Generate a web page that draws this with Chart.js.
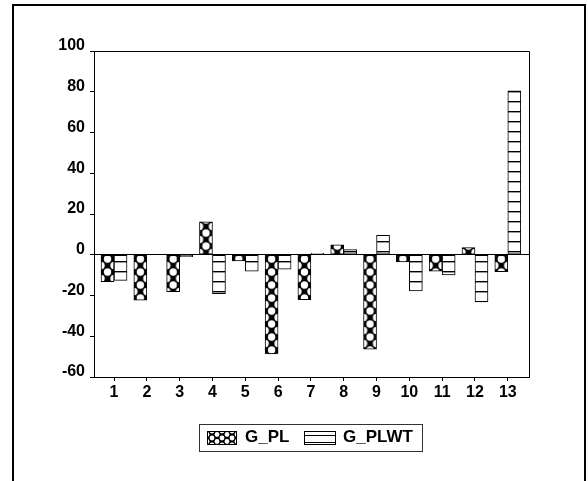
<!DOCTYPE html>
<html><head><meta charset="utf-8">
<script src="https://cdn.jsdelivr.net/npm/chart.js@4"></script>
<style>html,body{margin:0;padding:0;background:#fff;}canvas{display:block;}</style>
</head><body>
<canvas id="c" width="588" height="481"></canvas>
<script>
const categories = [1, 2, 3, 4, 5, 6, 7, 8, 9, 10, 11, 12, 13];
const gPL   = [-13.2, -22.3, -18.1, 16.1, -3.0, -48.7, -22.0, 4.9, -46.3, -3.5, -8.0, 3.5, -8.3];
const gPLWT = [-12.6, 0, -1.0, -19.1, -8.0, -7.1, 0.7, 2.5, 9.5, -17.8, -9.9, -23.1, 80.4];
const seriesNames = ['G_PL', 'G_PLWT'];
const yTicks = [-60, -40, -20, 0, 20, 40, 60, 80, 100];

const FONT = "'Liberation Sans', Arial, sans-serif";
Chart.defaults.font.family = FONT;
Chart.defaults.color = '#000';

function makePLTile(w, h, r) {
  const c = document.createElement('canvas'); c.width = w; c.height = h;
  const g = c.getContext('2d');
  g.fillStyle = '#000'; g.fillRect(0, 0, w, h);
  g.fillStyle = '#fff';
  [[w / 2, 0], [w / 2, h], [0, h / 2], [w, h / 2]].forEach(([x, y]) => {
    g.beginPath(); g.arc(x, y, r, 0, Math.PI * 2); g.fill();
  });
  return c;
}
function makeLineTile() {
  const c = document.createElement('canvas'); c.width = 10; c.height = 10;
  const g = c.getContext('2d');
  g.fillStyle = '#fff'; g.fillRect(0, 0, 10, 10);
  g.fillStyle = '#000'; g.fillRect(0, 1, 10, 1);
  g.fillStyle = 'rgba(0,0,0,0.4)'; g.fillRect(0, 2, 10, 1);
  return c;
}
const plTile = makePLTile(13, 13, 3.7);
const plSmallTile = makePLTile(10, 7, 2.4);
const lineTile = makeLineTile();
const BAR_W = 13;

function plFill(ctx) {
  const chart = ctx.chart;
  const xs = chart.scales && chart.scales.x, ys = chart.scales && chart.scales.y;
  if (!xs || !ys || ctx.type !== 'data' || !ctx.raw) return '#000';
  const left = xs.getPixelForValue(ctx.raw.x) - BAR_W;
  const zero = ys.getPixelForValue(0);
  const p = chart.ctx.createPattern(plTile, 'repeat');
  if (isFinite(left) && isFinite(zero)) p.setTransform(new DOMMatrix([1, 0, 0, 1, left, zero + 4.3]));
  return p;
}
function plwtFill(ctx) {
  return ctx.chart.ctx.createPattern(lineTile, 'repeat');
}

const framePlugin = {
  id: 'frame',
  afterDraw(chart) {
    const g = chart.ctx, a = chart.chartArea;
    g.save();
    g.strokeStyle = '#000'; g.lineWidth = 1;
    g.beginPath();
    g.moveTo(a.left, a.top + 0.5); g.lineTo(a.right + 0.5, a.top + 0.5);
    g.lineTo(a.right + 0.5, a.bottom);
    g.stroke();
    g.lineWidth = 2;
    g.strokeRect(13, 5, 572, 500);
    g.lineWidth = 1; g.strokeStyle = '#333';
    g.strokeRect(199.5, 424.5, 223, 27);
    const p1 = g.createPattern(plSmallTile, 'repeat');
    p1.setTransform(new DOMMatrix([1, 0, 0, 1, 207, 431]));
    g.fillStyle = p1; g.fillRect(207, 431, 30, 14);
    g.strokeStyle = '#000'; g.strokeRect(207.5, 431.5, 29, 13);
    g.fillStyle = '#fff'; g.fillRect(304, 431, 32, 14);
    g.strokeRect(304.5, 431.5, 31, 13);
    g.beginPath();
    g.moveTo(304, 435.5); g.lineTo(336, 435.5);
    g.moveTo(304, 442.5); g.lineTo(336, 442.5);
    g.stroke();
    g.fillStyle = '#000';
    g.font = 'bold 17px ' + FONT;
    g.textBaseline = 'alphabetic'; g.textAlign = 'left';
    g.fillText(chart.data.datasets[0].label, 245, 442);
    g.fillText(chart.data.datasets[1].label, 343, 442);
    g.restore();
  }
};

new Chart(document.getElementById('c'), {
  type: 'bar',
  data: {
    datasets: [
      { label: seriesNames[0], data: categories.map((c, i) => ({ x: c, y: gPL[i] })),
        backgroundColor: plFill, borderColor: '#000', borderWidth: 1, borderSkipped: false, barThickness: BAR_W },
      { label: seriesNames[1], data: categories.map((c, i) => ({ x: c, y: gPLWT[i] })),
        backgroundColor: plwtFill, borderColor: '#000', borderWidth: 1, borderSkipped: false, barThickness: BAR_W }
    ]
  },
  options: {
    responsive: false,
    animation: false,
    events: [],
    devicePixelRatio: 1,
    layout: { padding: { top: 51, right: 59, bottom: 74, left: 0 } },
    plugins: { legend: { display: false }, tooltip: { enabled: false } },
    scales: {
      x: {
        type: 'linear', min: 0.39, max: 13.646, offset: false,
        afterBuildTicks: s => { s.ticks = categories.map(v => ({ value: v })); },
        afterFit: s => { s.height = 30; },
        ticks: { autoSkip: false, maxRotation: 0, padding: 2, font: { size: 16, weight: 'bold' }, color: '#000',
                 callback: v => String(v) },
        grid: { offset: false, drawOnChartArea: false, drawTicks: true, tickLength: 4, tickColor: '#000' },
        border: { display: true, color: '#000', width: 1 }
      },
      y: {
        min: -60, max: 100,
        afterBuildTicks: s => { s.ticks = yTicks.map(v => ({ value: v })); },
        afterFit: s => { s.width = 94; },
        ticks: { padding: 5, labelOffset: -5, font: { size: 16, weight: 'bold' }, color: '#000' },
        grid: { drawOnChartArea: true, drawTicks: true, tickLength: 4, tickColor: '#000',
                color: c => (c.tick && c.tick.value === 0) ? '#000' : 'rgba(0,0,0,0)' },
        border: { display: true, color: '#000', width: 1 }
      }
    }
  },
  plugins: [framePlugin]
});
</script>
</body></html>
